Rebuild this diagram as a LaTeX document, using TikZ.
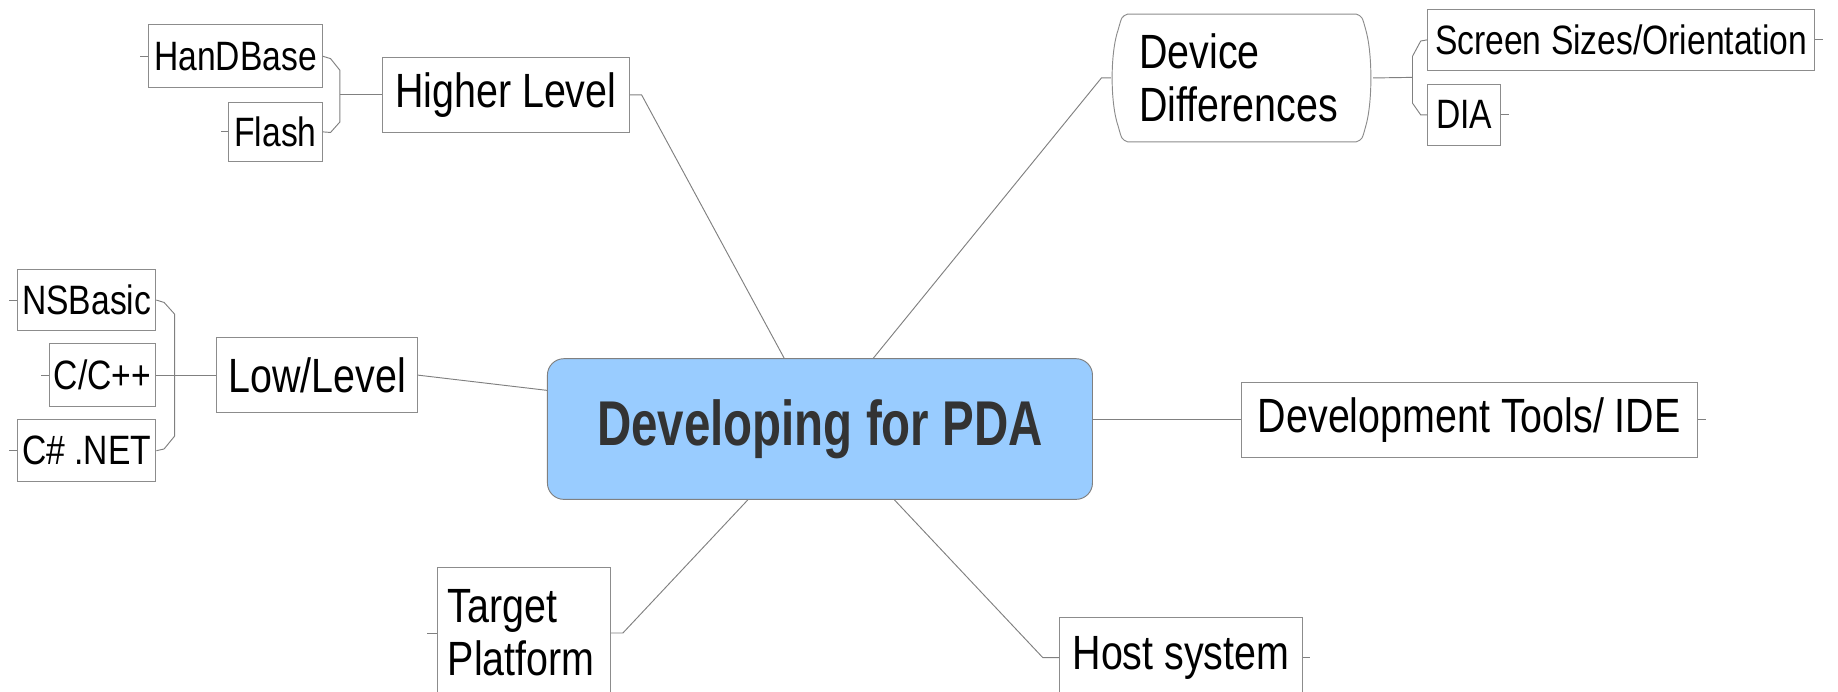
\documentclass[tikz,border=0pt]{standalone}
\usepackage{fontspec}
\setmainfont{Liberation Sans}
\newfontfamily\nfont[FakeStretch=0.82]{Liberation Sans}
\newfontfamily\cfont[FakeStretch=0.75]{Liberation Sans Bold}
\usetikzlibrary{calc}
\definecolor{cfill}{HTML}{99CCFF}
\definecolor{bgray}{HTML}{8C8C8C}
\definecolor{lgray}{HTML}{808080}
\definecolor{ctext}{HTML}{333333}
\tikzset{
  box/.style={draw=bgray, line width=0.8pt, inner sep=0pt, text=black,
    font=\nfont\fontsize{41}{45}\selectfont},
  subbox/.style={box, font=\nfont\fontsize{35}{40}\selectfont},
  link/.style={draw=lgray, line width=0.8pt},
}
\begin{document}
\begin{tikzpicture}[x=1pt,y=-1pt]
\useasboundingbox (0,0) rectangle (1568,590);
\clip (0,0) rectangle (1568,590);

% central
\node[draw=lgray, line width=0.8pt, fill=cfill, rounded corners=14pt,
      minimum width=465pt, minimum height=120pt, inner sep=0pt,
      text=ctext, font=\cfont\fontsize{54}{60}\selectfont] (central) at (699.5,366) {Developing for PDA};

% upper left
\node[subbox, minimum width=148pt, minimum height=54pt] (handbase) at (201,48) {HanDBase};
\node[subbox, minimum width=80pt, minimum height=51pt] (flash) at (235,112.5) {Flash};
\node[box, minimum width=211pt, minimum height=64pt] (higher) at (431.5,81) {Higher Level};

% left
\node[subbox, minimum width=118pt, minimum height=52pt] (nsbasic) at (74,256) {NSBasic};
\node[subbox, minimum width=91pt, minimum height=54pt] (cpp) at (87.5,320) {C/C++};
\node[subbox, minimum width=118pt, minimum height=53pt] (csharp) at (74,384.5) {C\# .NET};
\node[box, minimum width=171pt, minimum height=64pt] (low) at (270.5,320) {Low/Level};

% upper right
\node[box, draw=none, minimum width=223pt, minimum height=109pt,
      text width=175pt, align=left] (devdiff) at (1059.5,66.5) {Device\\Differences};
\draw[draw=bgray, line width=0.8pt]
  (962,12) -- (1157,12) .. controls (1162,14) .. (1165,25)
  .. controls (1171,45) and (1171,88) .. (1165,108)
  .. controls (1162,119) .. (1157,121) -- (962,121)
  .. controls (957,119) .. (954,108)
  .. controls (947,88) and (947,45) .. (954,25)
  .. controls (957,14) .. cycle;
\node[subbox, minimum width=330pt, minimum height=52pt] (screen) at (1383,34) {Screen Sizes/Orientation};
\node[subbox, minimum width=62pt, minimum height=52pt] (dia) at (1249,98) {DIA};

% right
\node[box, minimum width=389pt, minimum height=64pt] (devtools) at (1253.5,358) {Development Tools/ IDE};

% bottom
\node[box, minimum width=148pt, minimum height=112pt, text width=130pt, align=left] (target) at (447,540) {Target\\Platform};
\node[box, minimum width=207pt, minimum height=68pt] (host) at (1007.5,561) {Host system};

% connectors: higher level group
\draw[link] (handbase.east) -- (282,50) -- (290,60) -- (290,104) -- (282,113) -- (flash.east);
\draw[link] (290,81) -- (higher.west);
\draw[link] (handbase.west) -- ++(-7,0);
\draw[link] (flash.west) -- ++(-6,0);
\draw[link] (higher.east) -- ++(10,0) -- ([xshift=-30.5pt]central.north);

% low level group
\draw[link] (nsbasic.east) -- (140,258) -- (149,268) -- (149,372) -- (140,383) -- (csharp.east);
\draw[link] (cpp.east) -- (low.west);
\draw[link] (nsbasic.west) -- ++(-7,0);
\draw[link] (cpp.west) -- ++(-7,0);
\draw[link] (csharp.west) -- ++(-7,0);
\draw[link] (low.east) -- ([yshift=33pt]central.west);

% device differences group
\draw[link] (devdiff.west) -- ++(-8,0) -- ([xshift=45.5pt]central.north);
\draw[link] (devdiff.east) -- (1205,66) -- (1205,48) -- (1212,35) -- (screen.west);
\draw[link] (1205,66) -- (1205,88) -- (1212,98) -- (dia.west);
\draw[link] (screen.east) -- ++(7,0);
\draw[link] (dia.east) -- ++(7,0);

% development tools
\draw[link] ([yshift=8pt]central.east) -- (devtools.west);
\draw[link] (devtools.east) -- ++(7,0);

% bottom
\draw[link] ([xshift=-61.5pt]central.south) -- ($(target.east)+(10,0)$) -- (target.east);
\draw[link] (target.west) -- ++(-8,0);
\draw[link] ([xshift=63.5pt]central.south) -- ($(host.west)+(-14,0)$) -- (host.west);
\draw[link] (host.east) -- ++(6,0);
\end{tikzpicture}
\end{document}
